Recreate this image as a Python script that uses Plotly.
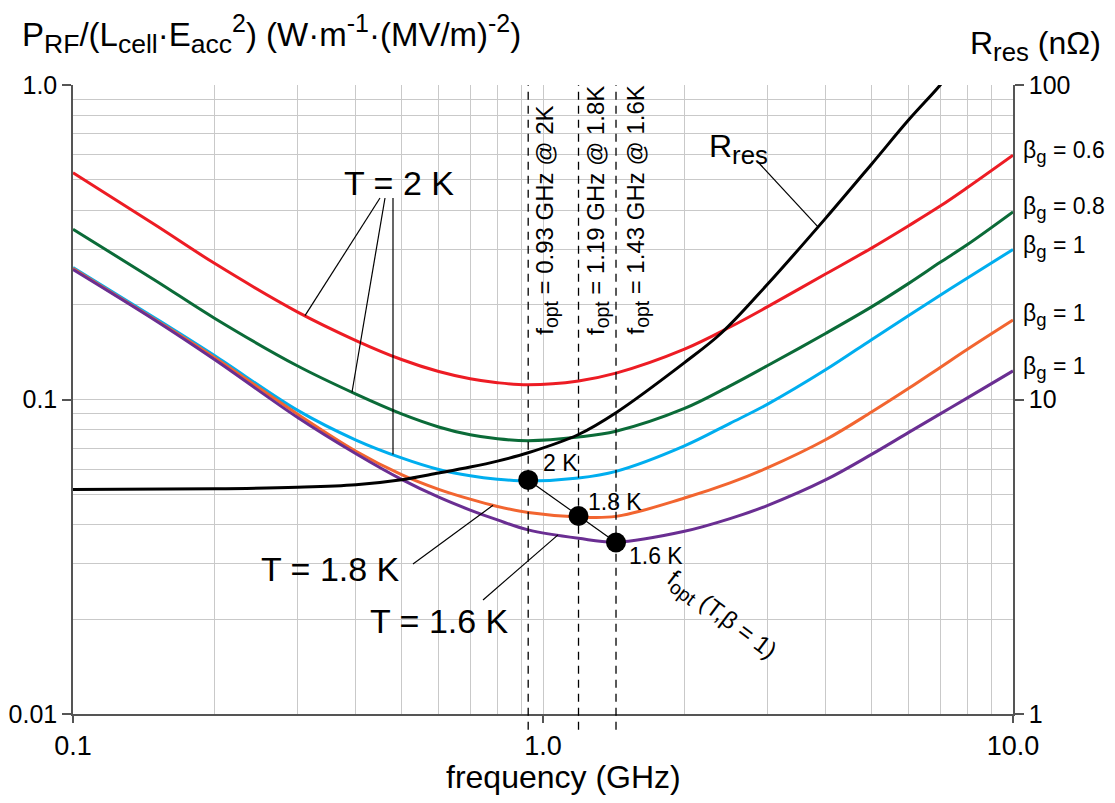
import numpy as np
import plotly.graph_objects as go

# ---------------- data ----------------
freq = [0.1, 0.15, 0.2, 0.3, 0.4, 0.5, 0.6, 0.7, 0.8, 0.93, 1.19, 1.43, 2.0, 2.5, 3.0, 4.0, 5.0, 6.0, 7.0, 8.0, 10.0]
p_2K_b06 = [0.526, 0.358, 0.271, 0.190, 0.154, 0.134, 0.1227, 0.1164, 0.1131, 0.1114, 0.1146, 0.1213, 0.1446, 0.170, 0.197, 0.251, 0.303, 0.357, 0.412, 0.472, 0.598]
p_2K_b08 = [0.348, 0.2386, 0.1813, 0.128, 0.104, 0.0900, 0.0818, 0.0772, 0.0750, 0.0740, 0.0760, 0.0793, 0.0937, 0.1105, 0.128, 0.1625, 0.197, 0.234, 0.273, 0.311, 0.395]
p_2K_b1 = [0.263, 0.181, 0.138, 0.0925, 0.0743, 0.0652, 0.0599, 0.0572, 0.0558, 0.0551, 0.0563, 0.0591, 0.0712, 0.0840, 0.0965, 0.1245, 0.155, 0.185, 0.2145, 0.2435, 0.300]
p_18K_b1 = [0.261, 0.179, 0.136, 0.0900, 0.0685, 0.0577, 0.0518, 0.0482, 0.0457, 0.0437, 0.0423, 0.0425, 0.0486, 0.0543, 0.0606, 0.0746, 0.0912, 0.1085, 0.1265, 0.1445, 0.179]
p_16K_b1 = [0.259, 0.178, 0.134, 0.0878, 0.0672, 0.0557, 0.0489, 0.0445, 0.0414, 0.0385, 0.0362, 0.0352, 0.0381, 0.0418, 0.0460, 0.0556, 0.0669, 0.0786, 0.0900, 0.1012, 0.1233]

freq_rres = [0.1, 0.2, 0.3, 0.4, 0.5, 0.6, 0.7, 0.8, 0.93, 1.19, 1.43, 2.0, 2.4, 3.0, 4.0, 5.0, 6.0, 7.0, 7.2]
rres_nohm = [5.17, 5.2, 5.26, 5.36, 5.56, 5.84, 6.1, 6.37, 6.77, 7.74, 9.08, 13.1, 16.3, 23.2, 37.8, 56.0, 77.5, 100.0, 106.0]

f_opt = [0.93, 1.19, 1.43]
p_opt = [0.0555, 0.0426, 0.0351]
t_opt = ["2 K", "1.8 K", "1.6 K"]
t_opt_full = ["2K", "1.8K", "1.6K"]

beta_labels = ["0.6", "0.8", "1", "1", "1"]
x_ticks = [0.1, 1.0, 10.0]
x_ticktext = ["0.1", "1.0", "10.0"]
y_ticks = [0.01, 0.1, 1.0]
y_ticktext = ["0.01", "0.1", "1.0"]
y2_ticks = [1, 10, 100]
y2_ticktext = ["1", "10", "100"]

colors = ["#ED1C24", "#0B6B38", "#00AEEF", "#F26530", "#6A2E92"]
curves = [p_2K_b06, p_2K_b08, p_2K_b1, p_18K_b1, p_16K_b1]

FONT = "Liberation Sans, Arial, sans-serif"
OFF = 8                      # default body margin of the html page
SX0, SY0 = 73, 85            # plot area top-left on screen
PW, PH = 940, 629
W, H = 1115 - 2 * OFF, 803 - 2 * OFF
L, T = SX0 - OFF, SY0 - OFF
R, B = W - L - PW, H - T - PH


def px_f(px):
    return 10 ** ((px - SX0) / PW * 2 - 1)


def py_p(py):
    return 10 ** (-(py - SY0) / PH * 2)


def curve_at(fx, fs, vs):
    return 10 ** np.interp(np.log10(fx), np.log10(fs), np.log10(vs))


def xp(px):
    return (px - SX0) / PW


def yp(py):
    return (SY0 + PH - py) / PH


fig = go.Figure()

for c, col in zip(curves, colors):
    fig.add_trace(go.Scatter(x=freq, y=c, mode="lines",
                             line=dict(color=col, width=3, shape="spline", smoothing=1.0),
                             showlegend=False, hoverinfo="skip"))

fig.add_trace(go.Scatter(x=freq_rres, y=rres_nohm, yaxis="y2", mode="lines",
                         line=dict(color="black", width=3, shape="spline", smoothing=1.0),
                         showlegend=False, hoverinfo="skip"))

# leader lines (start: near the label; end: on the curve)
leaders = [
    ((380, 198), 305, p_2K_b06, freq),
    ((385, 198), 352, p_2K_b08, freq),
    ((393, 198), 393, p_2K_b1, freq),
    ((413, 564), 493, p_18K_b1, freq),
    ((483, 600), 558, p_16K_b1, freq),
]
for (sx, sy), ex, cv, fs in leaders:
    fe = px_f(ex)
    fig.add_trace(go.Scatter(x=[px_f(sx), fe], y=[py_p(sy), curve_at(fe, fs, cv)], mode="lines",
                             line=dict(color="black", width=1.2), showlegend=False, hoverinfo="skip"))
fe = px_f(818)
fig.add_trace(go.Scatter(x=[px_f(758), fe], y=[py_p(162) * 100, curve_at(fe, freq_rres, rres_nohm)],
                         yaxis="y2", mode="lines", line=dict(color="black", width=1.2),
                         showlegend=False, hoverinfo="skip"))

# optimum points
fig.add_trace(go.Scatter(x=f_opt, y=p_opt, mode="lines+markers",
                         line=dict(color="black", width=1.2),
                         marker=dict(size=20, color="black"),
                         showlegend=False, hoverinfo="skip"))

# dashed verticals
for f in f_opt:
    fig.add_shape(type="line", xref="x", yref="paper", x0=f, x1=f, y0=-0.025, y1=1.0,
                  line=dict(color="black", width=1.3, dash="8px,6px"))

ann = []


def A(text, px, py, size, xanchor="center", yanchor="middle", angle=0):
    ann.append(dict(text=text, x=xp(px), y=yp(py), xref="paper", yref="paper",
                    xanchor=xanchor, yanchor=yanchor, showarrow=False, textangle=angle,
                    font=dict(family=FONT, size=size, color="black")))


def sub(t):
    return '<sub><span style="font-size:115%">' + t + '</span></sub>'


def sup(t):
    return '<sup><span style="font-size:108%">' + t + '</span></sup>'


A("P" + sub("RF") + "/(L" + sub("cell") + "·E" + sub("acc") + sup("2") + ") (W·m"
  + sup("-1") + "·(MV/m)" + sup("-2") + ")", 20, 34, 33, xanchor="left")
A("R" + sub("res") + " (nΩ)", 1103, 46, 32, xanchor="right")
A("frequency (GHz)", 563, 777, 32)
A("T = 2 K", 399, 183, 34)
A("T = 1.8 K", 330, 569, 34)
A("T = 1.6 K", 439, 621, 34)
A("R" + sub("res"), 738, 148, 32)
for (lbl, px, py) in zip(t_opt, [560, 615, 656], [463, 502, 556]):
    A(lbl, px, py, 23)
A("f" + sub("opt") + " (T,β = 1)", 721, 615, 24, angle=37)
for lbl, py in zip(beta_labels, [152, 208, 247, 315, 368]):
    A("β" + sub("g") + " = " + lbl, 1021, py, 23, xanchor="left")
for f, tf, dx in zip(f_opt, t_opt_full, [18, 19, 21]):
    px = SX0 + (np.log10(f) + 1) / 2 * PW + dx
    A("f" + sub("opt") + " = %.2f GHz @ %s" % (f, tf), px, 337, 24, yanchor="bottom", angle=-90)

grid = "#c9c9c9"
axcol = "#555555"
xminor = [0.2, 0.3, 0.4, 0.5, 0.6, 0.7, 0.8, 0.9, 2, 3, 4, 5, 6, 7, 8, 9]
yminor = [0.02, 0.03, 0.04, 0.05, 0.06, 0.07, 0.08, 0.09, 0.2, 0.3, 0.4, 0.5, 0.6, 0.7, 0.8, 0.9]

fig.update_layout(
    width=W, height=H,
    margin=dict(l=L, r=R, t=T, b=B, autoexpand=False),
    paper_bgcolor="white", plot_bgcolor="white",
    font=dict(family=FONT, color="black"),
    annotations=ann,
    xaxis=dict(type="log", range=[-1, 1], tickmode="array", tickvals=x_ticks, ticktext=x_ticktext,
               ticks="outside", ticklen=7, tickwidth=1.5, tickcolor=axcol, automargin=False,
               showline=True, linecolor=axcol, linewidth=1.5,
               showgrid=True, gridcolor=grid, gridwidth=1.3, zeroline=False,
               tickfont=dict(size=27, family=FONT, color="black"),
               minor=dict(tickmode="array", tickvals=xminor, showgrid=True, gridcolor=grid,
                          gridwidth=1.3, ticks="")),
    yaxis=dict(type="log", range=[-2, 0], tickmode="array", tickvals=y_ticks, ticktext=y_ticktext,
               ticks="outside", ticklen=9, tickwidth=1.5, tickcolor=axcol, automargin=False,
               showline=True, linecolor=axcol, linewidth=1.5,
               showgrid=True, gridcolor=grid, gridwidth=1.3, zeroline=False,
               tickfont=dict(size=25, family=FONT, color="black"),
               minor=dict(tickmode="array", tickvals=yminor, showgrid=True, gridcolor=grid,
                          gridwidth=1.3, ticks="")),
    yaxis2=dict(type="log", range=[0, 2], overlaying="y", side="right", tickmode="array",
                tickvals=y2_ticks, ticktext=y2_ticktext, automargin=False,
                ticks="outside", ticklen=9, tickwidth=1.5, tickcolor=axcol,
                showline=True, linecolor=axcol, linewidth=1.5, showgrid=False, zeroline=False,
                tickfont=dict(size=25, family=FONT, color="black")),
)

fig.write_html("out.html")
